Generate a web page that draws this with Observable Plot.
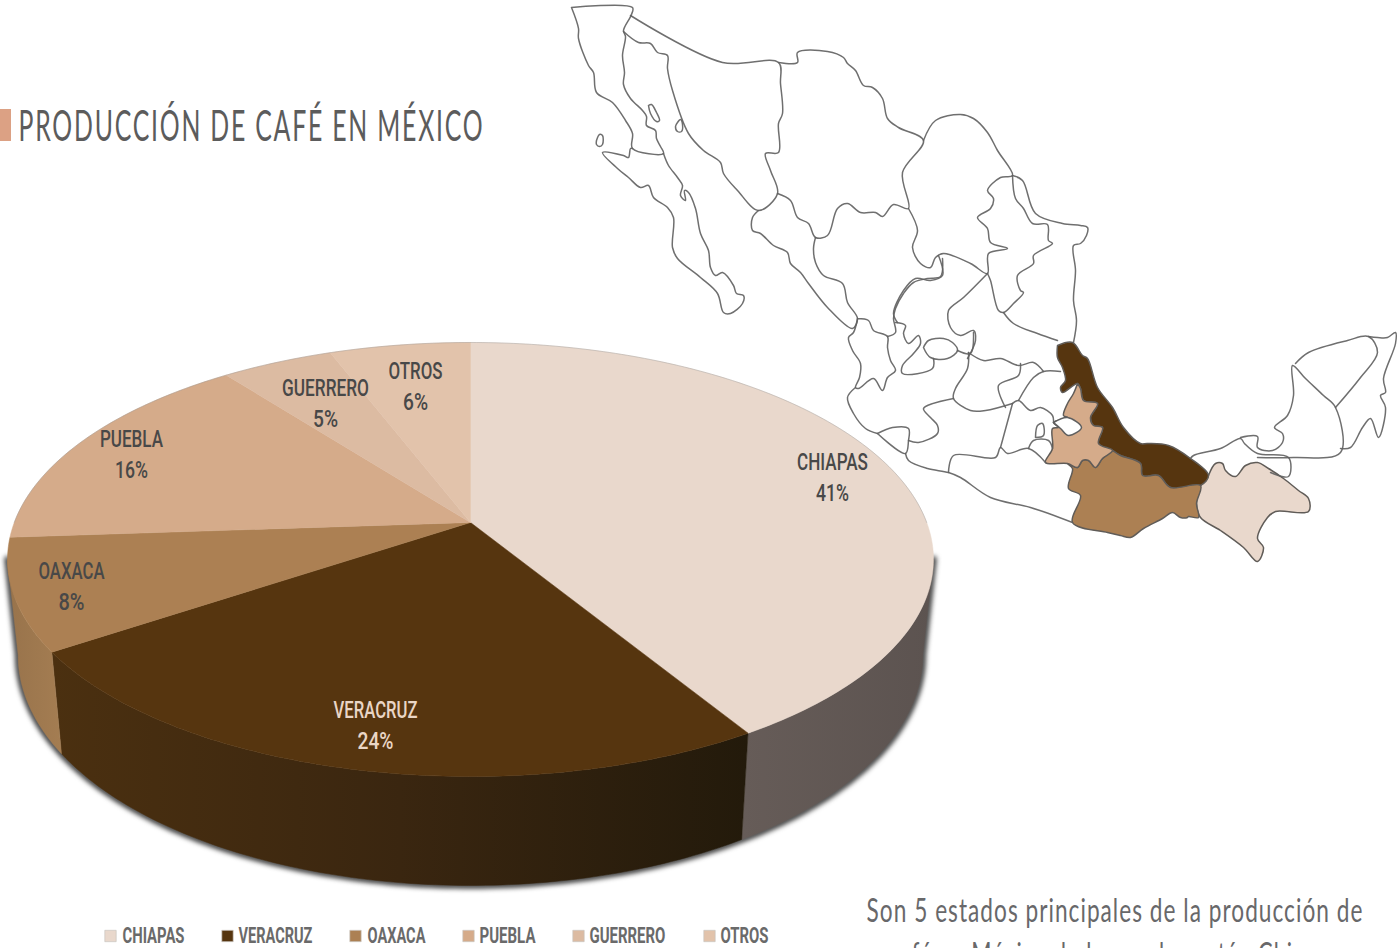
<!DOCTYPE html>
<html lang="es">
<head>
<meta charset="utf-8">
<title>Producción de café en México</title>
<style>
html,body{margin:0;padding:0;background:#fff;overflow:hidden}
svg{display:block}
</style>
<script src="https://cdn.jsdelivr.net/npm/d3@7"></script>
<script src="https://cdn.jsdelivr.net/npm/@observablehq/plot@0.6"></script>
</head>
<body>
<div id="chart"></div>
<script>
// ---------- pie data (shares read from slice boundaries) ----------
const categories = ["CHIAPAS", "VERACRUZ", "OAXACA", "PUEBLA", "GUERRERO", "OTROS"];
const shares = [41.3, 24.3, 8.3, 15.7, 4.6, 5.8];
const sliceColors = ["#e9d8cc", "#56350f", "#ac8053", "#d5ab8a", "#dcbba2", "#e2c3ab"];
const wallColors = [["#5c5350", "#665c58"], ["#4b3010", "#3a2610", "#231a0b"], ["#98734b", "#a47d52"]];

const titleText = "PRODUCCIÓN DE CAFÉ EN MÉXICO";
const noteLines = ["Son 5 estados principales de la producción de", "café en México de los cuales están Chiapas"];

const bajaCalifornia = [[571,7],[632,7],[631,14],[623,30],[625,36],[622,55],[624,72],[623,84],[630,98],[642,110],[646,116],[646,125],[655,130],[656,138],[660,146],[663,153],[632,148],[632,133],[625,120],[612,102],[596,92],[593,72],[588,65],[578,38],[578,28],[571,7]];
const bajaSur = [[663,153],[668,165],[677,177],[682,185],[680,195],[685,200],[684,190],[688,192],[695,208],[700,233],[708,250],[710,267],[715,275],[722,272],[733,285],[736,293],[743,295],[742,303],[730,313],[723,312],[717,293],[700,277],[677,258],[672,247],[673,217],[667,207],[653,197],[648,185],[640,187],[628,177],[617,168],[602,152],[623,155],[628,157],[630,148],[632,148]];
const islandA = [[648,105],[651,104],[656,112],[659,120],[656,121],[650,113],[648,105]];
const islandB = [[677,122],[680,119],[682,124],[681,131],[677,131],[675,126],[677,122]];
const islandC = [[596,140],[599,134],[602,135],[602,144],[599,146],[596,144],[596,140]];
const sonora = [[630,15],[722,62],[778,62],[780,83],[782,113],[778,123],[778,152],[765,153],[770,170],[777,193],[758,210],[737,190],[723,173],[720,162],[703,150],[688,133],[672,90],[667,68],[667,55],[657,52],[650,43],[638,42],[623,31]];
const chihuahua = [[778,62],[797,62],[797,52],[827,51],[843,57],[847,63],[855,70],[863,85],[872,87],[882,98],[887,118],[898,127],[923,140],[902,172],[908,208],[893,204],[882,216],[875,212],[860,212],[847,203],[837,208],[827,235],[815,237],[808,223],[797,217],[790,200],[777,193]];
const sinaloa = [[758,210],[752,217],[752,230],[760,233],[773,245],[787,252],[790,263],[800,272],[808,283],[827,307],[852,328],[857,318],[847,302],[842,283],[823,275],[815,262],[813,248],[815,237]];
const nayarit = [[857,318],[853,332],[848,337],[852,350],[860,363],[859,377],[855,387],[858,388],[873,378],[882,390],[887,377],[895,370],[890,360],[887,347],[887,336],[873,330],[868,320],[857,318]];
const durangoZac = [[887,336],[895,332],[893,318],[895,308],[903,293],[913,282],[927,278],[940,276],[942,258]];
const coahuila = [[923,140],[935,120],[960,114],[973,118],[987,132],[997,150],[1012,175],[1000,177],[987,190],[993,198],[990,208],[977,217],[987,228],[990,242],[1007,248],[988,253],[987,273],[970,263],[943,253],[935,257],[930,267],[920,263],[912,247],[917,230],[908,208]];
const zacatecasEast = [[938,255],[942,275],[930,280],[915,278],[903,290],[893,313],[897,322]];
const sanLuisWest = [[987,273],[963,297],[948,310],[950,327],[960,335],[973,330],[975,340],[967,358]];
const nuevoLeon = [[1012,175],[1015,198],[1023,208],[1032,223],[1047,224],[1048,240],[1052,243],[1033,255],[1033,263],[1017,275],[1020,290],[1023,292],[1013,303],[1003,312],[998,310],[990,280],[987,273]];
const tamaulipas = [[1012,175],[1022,180],[1035,213],[1062,223],[1080,225],[1087,227],[1086,235],[1080,243],[1073,245],[1075,270],[1073,300],[1076,320],[1073,342]];
const tamaulipasSouth = [[1003,312],[1013,323],[1037,333],[1057,340]];
const jaliscoCoast = [[855,387],[847,397],[853,413],[865,428],[877,433]];
const colima = [[877,433],[892,427],[908,428],[908,440],[905,453],[877,433]];
const guerreroCoast = [[905,453],[908,460],[927,468],[948,472],[960,477],[990,497],[1030,507],[1072,522]];
const michoacanGuerrero = [[948,472],[953,455],[995,457],[1000,447],[1007,453],[1028,448],[1045,462]];
const morelos = [[1028,448],[1033,440],[1048,440],[1052,448]];
const mexicoWest = [[1000,447],[1012,403]];
const mexicoEast = [[1012,403],[1018,400],[1030,410],[1040,407],[1052,415],[1053,422]];
const ciudad = [[1035,437],[1037,425],[1042,423],[1043,435],[1035,437]];
const hidalgo = [[1018,400],[1033,377],[1043,371],[1060,371]];
const queretaro = [[1020,363],[1018,375],[998,385],[1005,407]];
const sanLuisSouth = [[968,352],[983,360],[1000,358],[1018,365],[1033,362],[1043,371]];
const guanajuato = [[968,352],[967,368],[955,388],[953,398],[970,410],[985,410],[1012,403]];
const aguascalientes = [[923,347],[928,340],[943,338],[952,342],[957,350],[947,358],[930,357],[923,347]];
const jaliscoStrip = [[895,322],[905,325],[903,333],[908,343],[918,335],[920,343],[913,353],[902,365],[902,373],[932,368],[933,358]];
const zacaSouth = [[957,350],[970,353],[973,332]];
const michoacanWest = [[953,398],[923,408],[930,417],[937,425],[937,433],[918,442],[908,440]];
const tlaxcala = [[1053,422],[1067,417],[1081,427],[1068,435],[1060,428],[1053,422]];
const tabasco = [[1190,458],[1193,455],[1220,448],[1240,438],[1244,443],[1257,453],[1288,457],[1288,476],[1270,472]];
const campeche = [[1240,437],[1257,436],[1257,447],[1272,450],[1282,442],[1282,433],[1274,427],[1287,415],[1293,395],[1292,365],[1305,378],[1323,395],[1335,407],[1340,452],[1293,457],[1257,457]];
const yucatan = [[1295,363],[1308,352],[1347,340],[1368,336],[1377,352],[1360,377],[1335,407]];
const quintanaRoo = [[1368,336],[1377,337],[1387,337],[1395,332],[1395,343],[1383,378],[1385,392],[1380,395],[1385,407],[1378,437],[1370,418],[1362,427],[1350,447],[1340,448]];

const veracruzShape = [[1057,345],[1072,342],[1082,355],[1087,358],[1097,387],[1112,407],[1123,427],[1140,443],[1147,443],[1168,445],[1190,458],[1208,475],[1200,485],[1170,487],[1158,475],[1142,475],[1140,463],[1120,455],[1112,450],[1098,443],[1102,427],[1093,425],[1090,417],[1097,403],[1083,400],[1080,388],[1077,383],[1062,392],[1060,387],[1065,380],[1062,367],[1057,357],[1057,345]];
const pueblaShape = [[1077,383],[1080,388],[1083,400],[1097,403],[1090,417],[1093,425],[1102,427],[1098,443],[1112,450],[1102,458],[1095,467],[1088,460],[1082,460],[1077,467],[1067,463],[1045,462],[1052,448],[1052,428],[1058,427],[1053,422],[1067,417],[1063,415],[1067,403],[1073,393],[1077,383]];
const oaxacaShape = [[1112,450],[1120,455],[1140,463],[1142,475],[1158,475],[1170,487],[1200,485],[1196,503],[1198,517],[1188,516],[1187,517],[1180,517],[1172,512],[1162,518],[1143,528],[1130,537],[1120,535],[1107,532],[1072,522],[1080,495],[1068,488],[1072,468],[1067,463],[1077,467],[1082,460],[1088,460],[1095,467],[1102,458],[1112,450]];
const chiapasShape = [[1208,475],[1215,463],[1222,463],[1225,470],[1235,476],[1245,465],[1257,462],[1268,468],[1283,478],[1298,490],[1308,498],[1308,511],[1275,511],[1267,517],[1257,538],[1263,547],[1257,561],[1243,547],[1220,530],[1200,517],[1196,503],[1200,485],[1208,475]];

const mapBorders = [bajaCalifornia, bajaSur, islandA, islandB, islandC, sonora, chihuahua, sinaloa, nayarit, durangoZac, coahuila, zacatecasEast, sanLuisWest, nuevoLeon, tamaulipas, tamaulipasSouth, jaliscoCoast, colima, guerreroCoast, michoacanGuerrero, morelos, mexicoWest, mexicoEast, ciudad, hidalgo, queretaro, sanLuisSouth, guanajuato, aguascalientes, jaliscoStrip, zacaSouth, michoacanWest, tabasco, campeche, yucatan, quintanaRoo];
const mapFills = [[chiapasShape, 0], [veracruzShape, 1], [oaxacaShape, 2], [pueblaShape, 3]];

// ---------- layout ----------
const toRow = ([x, y]) => ({x, y});
const cum = d3.cumsum(shares);
const total = d3.sum(shares);

// Perspective view of the pie disc
const pie = {cx: 470, cy: 522, a: 456.2, b: 210.7, k: 0.1705, shrink: 0.977, wallBottom: 885, wallStretch: 1.06};
function topPoint(share) {
  const t = share / total * 2 * Math.PI, u = Math.sin(t), v = -Math.cos(t), d = 1 - pie.k * v;
  return {x: pie.cx + pie.a * u / d, y: pie.cy + pie.b * v / d};
}
function bottomPoint(share) {
  const p = topPoint(share);
  return {x: pie.cx + pie.shrink * (p.x - pie.cx), y: pie.wallBottom + pie.wallStretch * (p.y - (pie.cy + pie.b / (1 - pie.k)))};
}
function arc(f, s0, s1, step = 0.25) {
  const pts = [];
  for (let s = s0; s < s1; s += step) pts.push(f(s));
  pts.push(f(s1));
  return pts;
}

const starts = shares.map((_, i) => (i ? cum[i - 1] : 0));
const ends = Array.from(cum);
const rimRight = 27.7, rimLeft = 72.3; // shares where the disc is widest on screen

const marks = [];

// wall gradients, spanning each wall's horizontal extent
const wallSlices = [
  {i: 0, from: rimRight, to: ends[0], x1: 933, x2: 742},
  {i: 1, from: ends[0], to: ends[1], x1: 51, x2: 748},
  {i: 2, from: ends[1], to: rimLeft, x1: 7, x2: 61}
];
marks.push(() => {
  const defs = d3.create("svg:defs");
  for (const w of wallSlices) {
    const g = defs.append("linearGradient").attr("id", "wall-" + w.i).attr("gradientUnits", "userSpaceOnUse")
      .attr("x1", w.x1).attr("x2", w.x2).attr("y1", 0).attr("y2", 0);
    const stops = wallColors[w.i];
    stops.forEach((c, j) => g.append("stop").attr("offset", j / (stops.length - 1)).attr("stop-color", c));
  }
  return defs.node();
});

// soft shadow under the drum
marks.push(Plot.line([topPoint(rimRight), ...arc(bottomPoint, rimRight, rimLeft), topPoint(rimLeft)], {x: "x", y: "y", stroke: "#2e2e2e", strokeWidth: 6, imageFilter: "blur(2.6px)"}));

// drum walls
for (const w of wallSlices) {
  const poly = [...arc(topPoint, w.from, w.to), ...arc(bottomPoint, w.from, w.to).reverse()];
  marks.push(Plot.line([...poly, poly[0]], {x: "x", y: "y", fill: `url(#wall-${w.i})`, stroke: `url(#wall-${w.i})`, strokeWidth: 0.5}));
}

// top of the pie
shares.forEach((_, i) => {
  const poly = [{x: pie.cx, y: pie.cy}, ...arc(topPoint, starts[i], ends[i]), {x: pie.cx, y: pie.cy}];
  marks.push(Plot.line(poly, {x: "x", y: "y", fill: sliceColors[i], stroke: sliceColors[i], strokeWidth: 0.5}));
});
// hairline on the far rim
marks.push(Plot.line(arc(topPoint, 75, 125), {x: "x", y: "y", stroke: "#8d8d8d", strokeWidth: 0.6, opacity: 0.6}));

// map
const mapLine = {x: "x", y: "y", curve: "catmull-rom", strokeLinejoin: "round", imageFilter: "blur(0.35px)"};
mapFills.forEach(([shape, i]) => marks.push(Plot.line(shape.map(toRow), {...mapLine, fill: sliceColors[i], stroke: "#605c58", strokeWidth: 1.5})));
marks.push(Plot.line(tlaxcala.map(toRow), {...mapLine, fill: "#fff", stroke: "#5f5f5f", strokeWidth: 1.5}));
mapBorders.forEach(b => marks.push(Plot.line(b.map(toRow), {...mapLine, stroke: "#5f5f5f", strokeWidth: 1.5, opacity: 0.9})));

// title block
marks.push(Plot.rect([{x1: 0, x2: 11, y1: 109, y2: 141}], {x1: "x1", x2: "x2", y1: "y1", y2: "y2", fill: "#dca184"}));

// text (squeezed to its measured width below, in the same order)
const fitted = [];
const spacing = [];
const textMark = (rows, opts, ls = 0) => {
  rows.forEach(r => { fitted.push(r.w); spacing.push(ls); });
  marks.push(Plot.text(rows, {x: "x", y: "y", text: "t", lineAnchor: "middle", ...opts}));
};
textMark([{t: titleText, x: 18, y: 127, w: 466}], {textAnchor: "start", fontFamily: "Lato", fontSize: 42, fill: "#5c5c5c"}, 3);

const labelAt = [[832, 462, 71, 33], [375, 710.5, 84, 36], [71, 571, 66, 26], [131, 439.5, 63, 33], [325, 388, 87, 25], [415, 371, 54, 25]];
const labelRows = categories.flatMap((c, i) => [
  {t: c, x: labelAt[i][0], y: labelAt[i][1], w: labelAt[i][2], f: i === 1 ? "#ead6c6" : "#484848"},
  {t: d3.format(".0f")(shares[i]) + "%", x: labelAt[i][0], y: labelAt[i][1] + 31, w: labelAt[i][3], f: i === 1 ? "#ead6c6" : "#484848"}
]);
textMark(labelRows, {fill: "f", fontFamily: "Roboto", fontWeight: 500, fontSize: 23});

// legend
const legendAt = [[110, 122, 62], [227, 238, 74], [355, 367, 58], [468, 479, 56], [578, 589, 76], [709, 720, 48]];
marks.push(Plot.dot(categories.map((c, i) => ({x: legendAt[i][0], y: 935.5, c: sliceColors[i]})), {x: "x", y: "y", fill: "c", stroke: "#c9c4bf", strokeWidth: 0.7, symbol: "square", r: 6.4}));
textMark(categories.map((c, i) => ({t: c, x: legendAt[i][1], y: 935, w: legendAt[i][2]})), {textAnchor: "start", fontFamily: "Roboto", fontWeight: 700, fontSize: 22, fill: "#6a6a6a"});

// note
textMark([{t: noteLines[0], x: 1114.5, y: 911, w: 497}, {t: noteLines[1], x: 1114, y: 955, w: 452}], {fontFamily: "Lato", fontSize: 33, fill: "#68686a"}, 1.5);

const chart = Plot.plot({
  width: 1397, height: 948, margin: 0,
  x: {domain: [0, 1397], range: [0, 1397], axis: null},
  y: {domain: [0, 948], range: [0, 948], axis: null},
  style: {background: "#fff"},
  marks
});
document.getElementById("chart").append(chart);
chart.querySelectorAll("text").forEach((t, i) => {
  if (fitted[i] == null) return;
  if (spacing[i]) t.style.letterSpacing = spacing[i] + "px";
  const sx = fitted[i] / t.getComputedTextLength();
  let base = t.getAttribute("transform");
  if (!base) {
    base = `translate(${t.getAttribute("x") || 0},${t.getAttribute("y") || 0})`;
    t.removeAttribute("x");
    t.removeAttribute("y");
  }
  t.setAttribute("transform", `${base} scale(${sx},1)`);
});
</script>
</body>
</html>
